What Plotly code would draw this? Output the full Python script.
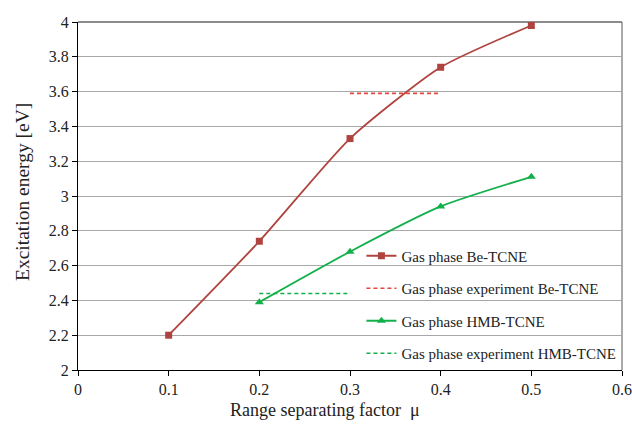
import plotly.graph_objects as go

mu_be = [0.1, 0.2, 0.3, 0.4, 0.5]
e_be = [2.20, 2.74, 3.33, 3.74, 3.98]
mu_be_exp = [0.3, 0.4]
e_be_exp = [3.59, 3.59]
mu_hmb = [0.2, 0.3, 0.4, 0.5]
e_hmb = [2.39, 2.68, 2.94, 3.11]
mu_hmb_exp = [0.2, 0.3]
e_hmb_exp = [2.44, 2.44]

x_ticks = [0, 0.1, 0.2, 0.3, 0.4, 0.5, 0.6]
x_labels = ["0", "0.1", "0.2", "0.3", "0.4", "0.5", "0.6"]
y_ticks = [2, 2.2, 2.4, 2.6, 2.8, 3, 3.2, 3.4, 3.6, 3.8, 4]
y_labels = ["2", "2.2", "2.4", "2.6", "2.8", "3", "3.2", "3.4", "3.6", "3.8", "4"]

red = "#B0433F"
red_exp = "#E8453C"
green = "#12B04A"

fig = go.Figure()
fig.add_trace(go.Scatter(x=mu_be, y=e_be, mode="lines+markers", name="Gas phase Be-TCNE",
                         line=dict(color=red, width=1.8, shape="spline", smoothing=0.6),
                         marker=dict(symbol="square", size=7, color=red), legendgroup="a"))
fig.add_trace(go.Scatter(x=mu_be_exp, y=e_be_exp, mode="lines", name="Gas phase experiment Be-TCNE",
                         line=dict(color=red_exp, width=1.6, dash="4px,3px"), legendgroup="b"))
fig.add_trace(go.Scatter(x=mu_hmb, y=e_hmb, mode="lines+markers", name="Gas phase HMB-TCNE",
                         line=dict(color=green, width=1.8, shape="spline", smoothing=0.6),
                         marker=dict(symbol="triangle-up", size=8, color=green), legendgroup="c"))
fig.add_trace(go.Scatter(x=mu_hmb_exp, y=e_hmb_exp, mode="lines", name="Gas phase experiment HMB-TCNE",
                         line=dict(color=green, width=1.6, dash="4px,3px"), legendgroup="d"))

font = "Times New Roman, Liberation Serif, serif"
fig.update_layout(
    width=632, height=425,
    margin=dict(l=78, r=10, t=22, b=55, autoexpand=False),
    paper_bgcolor="white", plot_bgcolor="white",
    font=dict(family=font, size=16, color="#222"),
    showlegend=True,
    legend=dict(x=0.521, y=0.375, xanchor="left", yanchor="top",
                bgcolor="rgba(0,0,0,0)", font=dict(family=font, size=15, color="#222"),
                tracegroupgap=10, itemwidth=30),
    xaxis=dict(range=[0, 0.6], tickvals=x_ticks, ticktext=x_labels, automargin=False,
               showgrid=False, showline=True, linecolor="black", linewidth=1,
               ticks="outside", ticklen=5, tickcolor="black",
               mirror=False, zeroline=False),
    yaxis=dict(range=[2, 4], tickvals=y_ticks, ticktext=y_labels, automargin=False,
               showgrid=True, gridcolor="#A8A8A8", gridwidth=1,
               showline=True, linecolor="black", linewidth=1,
               ticks="outside", ticklen=5, tickcolor="black", zeroline=False),
    annotations=[
        dict(text="Range separating factor  μ", xref="paper", yref="paper",
             x=(325 - 78) / 544, y=-(410 - 370) / 348, xanchor="center", yanchor="middle",
             showarrow=False, font=dict(family=font, size=18, color="#222")),
        dict(text="Excitation energy [eV]", xref="paper", yref="paper",
             x=-(78 - 22) / 544, y=(370 - 192) / 348, xanchor="center", yanchor="middle",
             textangle=-90, showarrow=False, font=dict(family=font, size=19.5, color="#222")),
    ],
)
fig.add_shape(type="line", xref="paper", yref="paper", x0=1, x1=1, y0=0, y1=1,
              line=dict(color="#555", width=1), layer="below")
fig.add_shape(type="line", xref="paper", yref="paper", x0=0, x1=1, y0=1, y1=1,
              line=dict(color="#666", width=1.5), layer="below")

fig.write_html("out.html")
